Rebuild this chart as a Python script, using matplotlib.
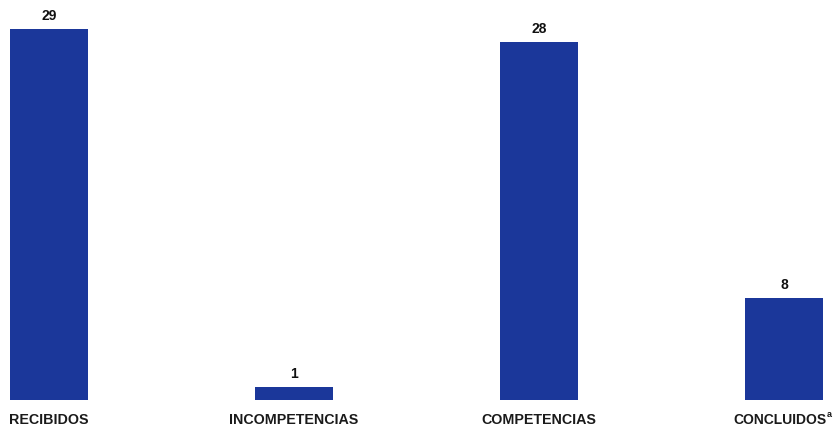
import matplotlib
matplotlib.use("Agg")
import matplotlib.pyplot as plt
import matplotlib.transforms as mtrans

categories = ["RECIBIDOS", "INCOMPETENCIAS", "COMPETENCIAS", "CONCLUIDOS"]
values = [29, 1, 28, 8]
footnote_mark = "a"

plt.rcParams['font.family'] = ['Liberation Sans', 'DejaVu Sans']

fig = plt.figure(figsize=(8.33, 4.30), dpi=100)
ax = fig.add_axes([0, 30/430, 1, 400/430])
x = range(len(values))
bars = ax.bar(x, values, width=0.315, color="#1b379a")
for xi, v in zip(x, values):
    ax.text(xi, v + 0.45, str(v), ha="center", va="bottom", fontsize=10, fontweight="bold", color="#111111")
ax.set_xlim(-0.2, 3.2)
ax.set_ylim(0, 31.25)
ax.set_yticks([])
ax.set_xticks(list(x))
labels = ax.set_xticklabels(categories, fontsize=10.3, fontweight="bold", color="#1a1a1a")
ax.tick_params(axis="x", length=0, pad=9)
for s in ax.spines.values():
    s.set_visible(False)

fig.canvas.draw()
last = ax.get_xticklabels()[-1]
last.set_fontsize(10)
last.set_transform(last.get_transform() + mtrans.ScaledTranslation(-4/100, 0, fig.dpi_scale_trans))
ax.annotate(footnote_mark, xy=(1, 1), xycoords=last, xytext=(0.3, 2.0), textcoords="offset points",
            ha="left", va="top", fontsize=6.5, fontweight="bold", color="#1a1a1a")
fig.savefig("out.png", dpi=100)
